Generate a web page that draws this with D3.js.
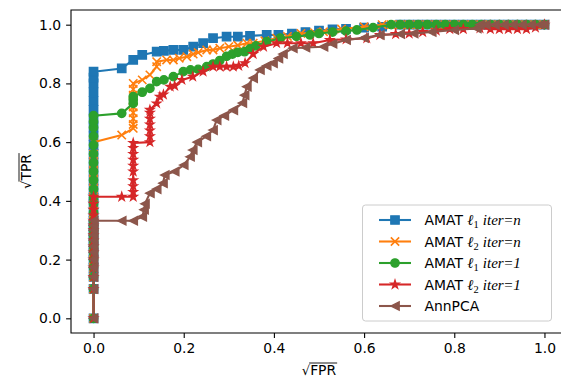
<!DOCTYPE html>
<meta charset="utf-8" />
<title>ROC curves, sqrt axes</title>
<style>
  body { margin: 0; background: #fff; }
  text { font-family: "DejaVu Sans", sans-serif; fill: #000; }
  .tick line { stroke: #000; stroke-width: 1.1px; }
  .spine { stroke: #000; stroke-width: 1.1px; fill: none; }
</style>
<body>
<script src="https://cdn.jsdelivr.net/npm/d3@7"></script>
<script>
  // [sqrt(FPR), sqrt(TPR)] pairs
  var amatL1IterN = [
    [0,0],[0,0.1],[0,0.141],[0,0.173],[0,0.2],[0,0.224],[0,0.245],[0,0.265],[0,0.283],[0,0.3],
    [0,0.316],[0,0.332],[0,0.36],[0,0.39],[0,0.41],[0,0.44],[0,0.47],[0,0.5],[0,0.53],[0,0.56],
    [0,0.59],[0,0.62],[0,0.65],[0,0.68],[0,0.71],[0,0.74],[0,0.77],[0,0.8],[0,0.82],[0,0.84],
    [0.0625,0.851],[0.088,0.88],[0.108,0.897],[0.14,0.908],[0.156,0.911],[0.177,0.914],[0.199,0.914],
    [0.221,0.925],[0.243,0.937],[0.265,0.954],[0.295,0.959],[0.32,0.959],[0.347,0.962],[0.384,0.965],
    [0.41,0.965],[0.44,0.97],[0.47,0.975],[0.5,0.98],[0.53,0.984],[0.56,0.986],[0.6,0.99],[0.64,0.993],
    [0.68,1],[0.7,1],[0.72,1],[0.74,1],[0.76,1],[0.78,1],[0.8,1],[0.82,1],[0.84,1],[0.86,1],[0.88,1],
    [0.9,1],[0.92,1],[0.94,1],[0.96,1],[0.98,1],[1,1]
  ];
  var amatL2IterN = [
    [0,0],[0,0.1],[0,0.141],[0,0.173],[0,0.2],[0,0.224],[0,0.245],[0,0.265],[0,0.283],[0,0.3],
    [0,0.316],[0,0.332],[0,0.36],[0,0.39],[0,0.41],[0,0.44],[0,0.47],[0,0.5],[0,0.53],[0,0.56],[0,0.6],
    [0.0625,0.624],[0.088,0.647],[0.088,0.66],[0.088,0.68],[0.088,0.7],[0.088,0.72],[0.088,0.74],
    [0.088,0.76],[0.088,0.78],[0.088,0.8],[0.108,0.812],[0.125,0.829],[0.14,0.857],[0.14,0.874],
    [0.162,0.88],[0.177,0.88],[0.19,0.886],[0.207,0.891],[0.221,0.9],[0.232,0.905],[0.251,0.914],
    [0.265,0.914],[0.28,0.92],[0.3,0.925],[0.32,0.93],[0.34,0.937],[0.354,0.937],[0.38,0.945],
    [0.406,0.954],[0.43,0.96],[0.46,0.97],[0.49,0.973],[0.51,0.976],[0.55,0.985],[0.6,0.993],
    [0.64,1],[0.66,1],[0.68,1],[0.7,1],[0.72,1],[0.74,1],[0.76,1],[0.78,1],[0.8,1],[0.82,1],[0.84,1],
    [0.86,1],[0.88,1],[0.9,1],[0.92,1],[0.94,1],[0.96,1],[0.98,1],[1,1]
  ];
  var amatL1Iter1 = [
    [0,0],[0,0.1],[0,0.141],[0,0.173],[0,0.2],[0,0.224],[0,0.245],[0,0.265],[0,0.283],[0,0.3],
    [0,0.316],[0,0.332],[0,0.36],[0,0.39],[0,0.41],[0,0.44],[0,0.47],[0,0.5],[0,0.53],[0,0.56],
    [0,0.59],[0,0.62],[0,0.65],[0,0.67],[0,0.69],
    [0.0625,0.698],[0.088,0.732],[0.088,0.744],[0.088,0.755],[0.108,0.77],[0.125,0.783],[0.14,0.806],
    [0.156,0.812],[0.177,0.823],[0.199,0.84],[0.215,0.846],[0.232,0.848],[0.251,0.857],[0.265,0.866],
    [0.28,0.878],[0.295,0.892],[0.308,0.9],[0.32,0.906],[0.335,0.908],[0.347,0.918],[0.36,0.928],
    [0.384,0.942],[0.414,0.954],[0.45,0.96],[0.48,0.965],[0.5,0.97],[0.53,0.975],[0.56,0.978],
    [0.584,0.982],[0.62,0.99],[0.66,1],[0.68,1],[0.7,1],[0.72,1],[0.74,1],[0.76,1],[0.78,1],[0.8,1],
    [0.82,1],[0.84,1],[0.86,1],[0.88,1],[0.9,1],[0.92,1],[0.94,1],[0.96,1],[0.98,1],[1,1]
  ];
  var amatL2Iter1 = [
    [0,0],[0,0.1],[0,0.141],[0,0.173],[0,0.2],[0,0.224],[0,0.245],[0,0.265],[0,0.283],[0,0.3],
    [0,0.316],[0,0.332],[0,0.35],[0,0.37],[0,0.39],[0,0.414],
    [0.0625,0.414],[0.088,0.414],[0.088,0.43],[0.088,0.45],[0.088,0.47],[0.088,0.5],[0.088,0.52],
    [0.088,0.54],[0.088,0.56],[0.088,0.58],[0.088,0.597],[0.125,0.6],[0.125,0.62],[0.125,0.64],
    [0.125,0.66],[0.125,0.68],[0.125,0.7],[0.125,0.71],[0.14,0.732],[0.147,0.755],[0.155,0.762],
    [0.17,0.789],[0.18,0.792],[0.196,0.812],[0.22,0.823],[0.243,0.84],[0.265,0.857],[0.28,0.857],
    [0.295,0.857],[0.31,0.857],[0.322,0.86],[0.336,0.869],[0.354,0.9],[0.377,0.925],[0.406,0.937],
    [0.43,0.937],[0.46,0.937],[0.487,0.937],[0.524,0.948],[0.56,0.95],[0.606,0.954],[0.635,0.965],
    [0.67,0.968],[0.7,0.97],[0.73,0.975],[0.76,0.98],[0.79,0.985],[0.82,0.985],[0.857,0.988],
    [0.88,0.985],[0.9,0.985],[0.92,0.985],[0.94,0.985],[0.96,0.985],[0.98,0.99],[1,1]
  ];
  var annPCA = [
    [0,0],[0,0.1],[0,0.141],[0,0.173],[0,0.2],[0,0.224],[0,0.245],[0,0.265],[0,0.283],[0,0.3],
    [0,0.316],[0,0.332],
    [0.0625,0.332],[0.088,0.332],[0.108,0.346],[0.112,0.37],[0.114,0.39],[0.125,0.426],[0.14,0.44],
    [0.154,0.46],[0.158,0.488],[0.18,0.5],[0.2,0.522],[0.214,0.55],[0.22,0.573],[0.23,0.6],
    [0.25,0.62],[0.265,0.641],[0.273,0.675],[0.29,0.69],[0.31,0.709],[0.33,0.733],[0.335,0.76],
    [0.34,0.789],[0.354,0.818],[0.369,0.846],[0.384,0.86],[0.398,0.869],[0.41,0.885],[0.42,0.9],
    [0.442,0.92],[0.47,0.922],[0.51,0.925],[0.53,0.935],[0.56,0.948],[0.6,0.955],[0.635,0.965],
    [0.68,0.968],[0.71,0.97],[0.75,0.975],[0.8,0.982],[0.85,0.987],[0.857,1],[0.87,1],[0.89,1],
    [0.91,1],[0.93,1],[0.95,1],[0.97,1],[0.99,1],[1,1]
  ];

  var seriesNames = ["l1n", "l2n", "l11", "l21", "pca"];
  var seriesData = [amatL1IterN, amatL2IterN, amatL1Iter1, amatL2Iter1, annPCA];
  var seriesColors = ["#1f77b4", "#ff7f0e", "#2ca02c", "#d62728", "#8c564b"];
  var seriesMarkers = ["square", "x", "circle", "star", "triangleLeft"];
  var xTicks = [0, 0.2, 0.4, 0.6, 0.8, 1.0];
  var yTicks = [0, 0.2, 0.4, 0.6, 0.8, 1.0];

  var width = 561,
    height = 378,
    plot = { left: 71, right: 567, top: 10, bottom: 333 },
    ms = 8.33, // marker size (6pt)
    fontPx = 13.9;

  var x = d3.scaleLinear().domain([-0.05, 1.05]).range([plot.left, plot.right]);
  var y = d3.scaleLinear().domain([-0.05, 1.05]).range([plot.bottom, plot.top]);

  var svg = d3
    .select("body")
    .append("svg")
    .attr("width", width)
    .attr("height", height);

  svg
    .append("clipPath")
    .attr("id", "clip")
    .append("rect")
    .attr("x", plot.left)
    .attr("y", plot.top)
    .attr("width", plot.right - plot.left)
    .attr("height", plot.bottom - plot.top);

  // marker paths centred on 0,0
  function markerPath(kind) {
    var h = ms / 2;
    if (kind === "square") return "M" + -h + "," + -h + "H" + h + "V" + h + "H" + -h + "Z";
    if (kind === "circle")
      return "M" + h + ",0A" + h + "," + h + " 0 1,1 " + -h + ",0A" + h + "," + h + " 0 1,1 " + h + ",0Z";
    if (kind === "x") return "M" + -h + "," + -h + "L" + h + "," + h + "M" + -h + "," + h + "L" + h + "," + -h;
    if (kind === "triangleLeft") return "M" + -h + ",0L" + h + "," + -h + "L" + h + "," + h + "Z";
    if (kind === "star") {
      var p = [];
      for (var k = 0; k < 10; k++) {
        var r = k % 2 ? h * 0.381966 : h,
          a = (k * Math.PI) / 5;
        p.push([r * Math.sin(a), -r * Math.cos(a)]);
      }
      return "M" + p.join("L") + "Z";
    }
  }

  var line = d3
    .line()
    .x(function (d) { return x(d[0]); })
    .y(function (d) { return y(d[1]); });

  var plotArea = svg.append("g").attr("clip-path", "url(#clip)");

  seriesData.forEach(function (data, i) {
    var g = plotArea.append("g").attr("class", "series " + seriesNames[i]);
    g.append("path")
      .datum(data)
      .attr("d", line)
      .attr("fill", "none")
      .attr("stroke", seriesColors[i])
      .attr("stroke-width", 2.08)
      .attr("stroke-linejoin", "round");
    g.selectAll(".mk")
      .data(data)
      .enter()
      .append("path")
      .attr("class", "mk")
      .attr("transform", function (d) {
        return "translate(" + x(d[0]) + "," + y(d[1]) + ")";
      })
      .attr("d", markerPath(seriesMarkers[i]))
      .attr("fill", seriesMarkers[i] === "x" ? "none" : seriesColors[i])
      .attr("stroke", seriesColors[i])
      .attr("stroke-width", seriesMarkers[i] === "x" ? 1.6 : 1.39)
      .attr("stroke-linejoin", "miter");
  });

  // axes
  var fmt = d3.format(".1f");
  var xAxis = svg
    .append("g")
    .attr("transform", "translate(0," + plot.bottom + ")")
    .call(d3.axisBottom(x).tickValues(xTicks).tickFormat(fmt).tickSize(4.9).tickPadding(4.9));
  var yAxis = svg
    .append("g")
    .attr("transform", "translate(" + plot.left + ",0)")
    .call(d3.axisLeft(y).tickValues(yTicks).tickFormat(fmt).tickSize(4.9).tickPadding(4.9));
  [xAxis, yAxis].forEach(function (a) {
    a.select(".domain").remove();
    a.selectAll("text")
      .style("font-size", fontPx + "px")
      .style("font-family", "DejaVu Sans");
  });

  svg
    .append("path")
    .attr("class", "spine")
    .attr(
      "d",
      "M" + plot.left + "," + plot.bottom + "V" + plot.top + "H" + plot.right + "V" + plot.bottom + "Z"
    );

  // axis labels: sqrt with an overbar
  function sqrtLabel(g, txt) {
    var rad = g.append("text").attr("x", 0).attr("y", 0).style("font-size", "13px").text("\u221a");
    var rw = rad.node().getComputedTextLength();
    var body = g
      .append("text")
      .attr("x", rw)
      .attr("y", 0)
      .style("font-size", fontPx + "px")
      .text(txt);
    var bw = body.node().getComputedTextLength();
    g.append("line")
      .attr("x1", rw - 1)
      .attr("x2", rw + bw + 1)
      .attr("y1", -12)
      .attr("y2", -12)
      .attr("stroke", "#000")
      .attr("stroke-width", 0.9);
    return rw + bw;
  }

  var xl = svg.append("g");
  var xw = sqrtLabel(xl, "FPR");
  xl.attr("transform", "translate(" + ((plot.left + plot.right) / 2 - xw / 2) + ",375)");

  var yl = svg.append("g");
  var yw = sqrtLabel(yl, "TPR");
  yl.attr(
    "transform",
    "translate(31," + ((plot.top + plot.bottom) / 2 + yw / 2) + ") rotate(-90)"
  );

  // legend
  var legend = svg.append("g").attr("transform", "translate(362.5,205)");
  legend
    .append("rect")
    .attr("width", 189)
    .attr("height", 116)
    .attr("rx", 3)
    .attr("fill", "#fff")
    .attr("fill-opacity", 0.8)
    .attr("stroke", "#cccccc")
    .attr("stroke-width", 1);

  var legendLabels = [
    ["AMAT ", "1", "iter=n"],
    ["AMAT ", "2", "iter=n"],
    ["AMAT ", "1", "iter=1"],
    ["AMAT ", "2", "iter=1"],
    ["AnnPCA"]
  ];
  var rowY = [15, 36.5, 58, 79.5, 101];

  legendLabels.forEach(function (lab, i) {
    var row = legend.append("g").attr("transform", "translate(0," + rowY[i] + ")");
    row
      .append("line")
      .attr("x1", 16.5)
      .attr("x2", 48.5)
      .attr("stroke", seriesColors[i])
      .attr("stroke-width", 2.08);
    row
      .append("path")
      .attr("transform", "translate(32.5,0)")
      .attr("d", markerPath(seriesMarkers[i]))
      .attr("fill", seriesMarkers[i] === "x" ? "none" : seriesColors[i])
      .attr("stroke", seriesColors[i])
      .attr("stroke-width", seriesMarkers[i] === "x" ? 1.6 : 1.39);
    var t = row
      .append("text")
      .attr("x", 62)
      .attr("y", 5)
      .style("font-size", fontPx + "px");
    t.append("tspan").text(lab[0]);
    if (lab.length > 1) {
      t.append("tspan")
        .style("font-family", "Liberation Serif")
        .style("font-style", "italic")
        .style("font-size", "15px")
        .text("\u2113");
      t.append("tspan")
        .attr("dy", 3)
        .style("font-family", "Liberation Serif")
        .style("font-size", "10.5px")
        .text(lab[1]);
      var parts = lab[2].split("=");
      t.append("tspan")
        .attr("dy", -3)
        .attr("dx", 4)
        .style("font-family", "Liberation Serif")
        .style("font-style", "italic")
        .style("font-size", "15px")
        .text(parts[0]);
      t.append("tspan")
        .attr("dx", 0.5)
        .style("font-family", "Liberation Serif")
        .style("font-size", "15px")
        .text("=");
      t.append("tspan")
        .attr("dx", 0.5)
        .style("font-family", "Liberation Serif")
        .style("font-style", "italic")
        .style("font-size", "15px")
        .text(parts[1]);
    }
  });
</script>
</body>
